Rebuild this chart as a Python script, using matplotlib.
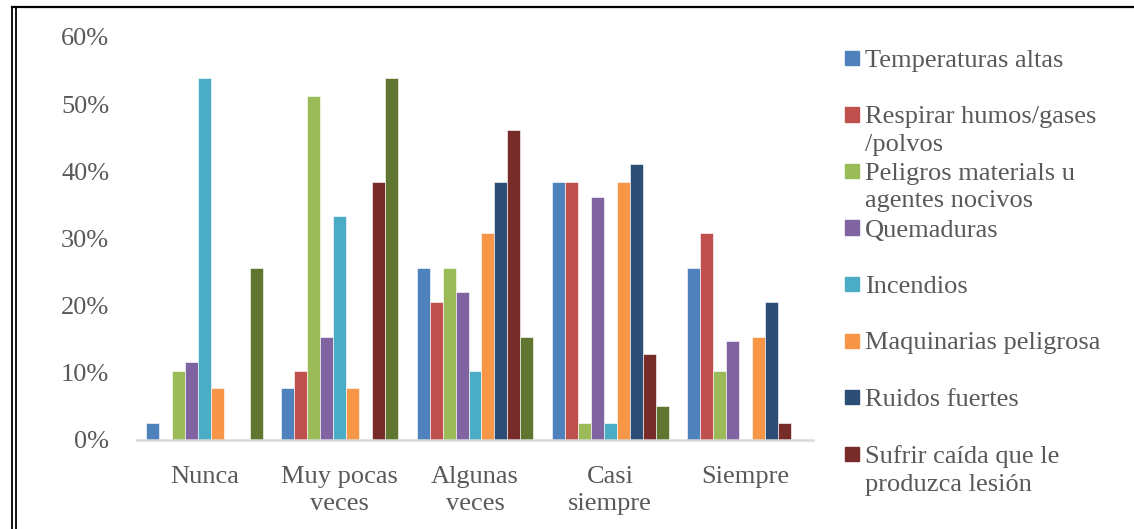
import numpy as np
import matplotlib.pyplot as plt
from matplotlib.lines import Line2D
from matplotlib.patches import Rectangle

plt.rcParams['font.family'] = ['Liberation Serif', 'DejaVu Serif']

categorias = ['Nunca', 'Muy pocas\nveces', 'Algunas\nveces', 'Casi\nsiempre', 'Siempre']

series = [
    'Temperaturas altas',
    'Respirar humos/gases\n/polvos',
    'Peligros materials u\nagentes nocivos',
    'Quemaduras',
    'Incendios',
    'Maquinarias peligrosa',
    'Ruidos fuertes',
    'Sufrir caída que le\nproduzca lesión',
    'Otros',  # la 9a serie no aparece en la leyenda (cortada)
]

# porcentajes por serie (Nunca, Muy pocas, Algunas, Casi siempre, Siempre)
temperaturas = [0.0256, 0.0769, 0.2564, 0.3846, 0.2564]
humos = [0.0, 0.1026, 0.2051, 0.3846, 0.3077]
peligros = [0.1026, 0.5128, 0.2564, 0.0256, 0.1026]
quemaduras = [0.1165, 0.1538, 0.2200, 0.3620, 0.1471]
incendios = [0.5385, 0.3333, 0.1026, 0.0256, 0.0]
maquinarias = [0.0769, 0.0769, 0.3077, 0.3846, 0.1538]
ruidos = [0.0, 0.0, 0.3846, 0.4103, 0.2051]
caida = [0.0, 0.3846, 0.4615, 0.1282, 0.0256]
otros = [0.2564, 0.5385, 0.1538, 0.0513, 0.0]

valores = [temperaturas, humos, peligros, quemaduras, incendios,
           maquinarias, ruidos, caida, otros]

colores = ['#4F81BD', '#C0504D', '#9BBB59', '#8064A2', '#4BACC6',
           '#F79646', '#2C4D75', '#772C2A', '#5F7530']

gris = '#595959'
fs = 19

fig = plt.figure(figsize=(11.34, 5.29), dpi=100)
ax = fig.add_axes([137/1134, 1-440/529, 676/1134, 403/529])

x = np.arange(len(categorias))
w = 0.096
n = len(valores)
for i in range(n):
    ax.bar(x + (i - (n-1)/2)*w, valores[i], w, color=colores[i],
           edgecolor=(1, 1, 1, 0.6), linewidth=0.7, label=series[i])

ax.set_xlim(-0.5, 4.5)
ax.set_ylim(0, 0.6)
ax.set_yticks(np.arange(0, 0.61, 0.1))
ax.set_yticklabels(['%d%%' % round(v*100) for v in np.arange(0, 0.61, 0.1)])
ax.set_xticks(x)
ax.set_xticklabels(categorias, linespacing=1.3)
ax.tick_params(axis='y', length=0, pad=20, labelsize=fs, labelcolor=gris)
ax.tick_params(axis='x', length=0, pad=19, labelsize=fs, labelcolor=gris)
for s in ['top', 'right', 'left']:
    ax.spines[s].set_visible(False)
ax.spines['bottom'].set_color('#D9D9D9')
ax.spines['bottom'].set_linewidth(1.8)

# leyenda manual (solo 8 entradas visibles)
W, H = 1134, 529
for i in range(8):
    yc = 58 + i*56.5
    fig.add_artist(Rectangle((845/W, 1-(yc+7)/H), 14/W, 14/H,
                             transform=fig.transFigure, color=colores[i]))
    fig.text(865/W, 1-(yc-8)/H, series[i], fontsize=fs, color=gris,
             va='top', ha='left', linespacing=1.3)

# marco de la imagen
fig.add_artist(Line2D([12/W, 1], [1-7/H, 1-7/H], color='black', lw=1.6))
fig.add_artist(Line2D([12/W, 12/W], [0, 1-7/H], color='black', lw=1.3))
fig.add_artist(Line2D([16/W, 16/W], [0, 1-7/H], color='black', lw=1.3))

fig.savefig('out.png', dpi=100)
